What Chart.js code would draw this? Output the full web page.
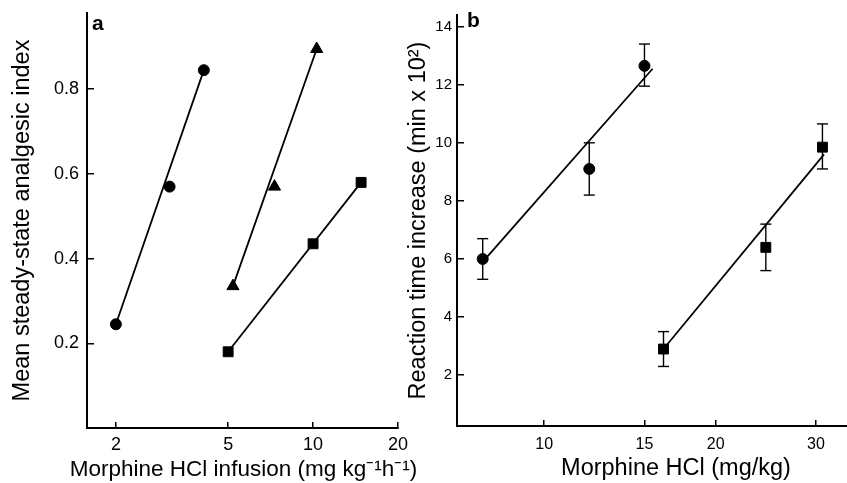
<!DOCTYPE html>
<html>
<head>
<meta charset="utf-8">
<script src="https://cdn.jsdelivr.net/npm/chart.js@4.4.0/dist/chart.umd.min.js"></script>
<style>
  html, body { margin: 0; padding: 0; background: #fff; overflow: hidden; width: 847px; height: 483px; }
  #chartA { position: absolute; left: 0; top: 0; }
  #chartB { position: absolute; left: 400px; top: 0; }
</style>
</head>
<body>
<canvas id="chartA" width="440" height="483"></canvas>
<canvas id="chartB" width="503" height="483"></canvas>
<script>

// panel a : steady-state analgesic index vs infusion rate
const aCircleX = [2, 3.1, 4.1];
const aCircleY = [0.245, 0.57, 0.845];
const aTriangleX = [5.2, 7.3, 10.3];
const aTriangleY = [0.335, 0.57, 0.895];
const aSquareX = [5, 10, 14.8];
const aSquareY = [0.18, 0.435, 0.58];

// fitted lines, panel a (end points)
const aCircleFitX = [2, 4.1];
const aCircleFitY = [0.245, 0.845];
const aTriangleFitX = [5.2, 10.3];
const aTriangleFitY = [0.335, 0.895];
const aSquareFitX = [5, 14.8];
const aSquareFitY = [0.18, 0.58];

const aXTicks = [2, 5, 10, 20];
const aYTicks = [0.2, 0.4, 0.6, 0.8];

// panel b : reaction time increase vs dose
const bCircleX = [7.8, 12, 15];
const bCircleY = [6.0, 9.1, 12.65];
const bCircleLow = [5.3, 8.2, 11.95];
const bCircleHigh = [6.7, 10.0, 13.4];
const bSquareX = [16.2, 24.5, 30.8];
const bSquareY = [2.9, 6.4, 9.85];
const bSquareLow = [2.3, 5.6, 9.1];
const bSquareHigh = [3.5, 7.2, 10.65];

const bCircleFitX = [7.8, 15.5];
const bCircleFitY = [5.9, 12.55];
const bSquareFitX = [16.2, 31];
const bSquareFitY = [2.9, 9.6];

const bXTicks = [10, 15, 20, 30];
const bYTicks = [2, 4, 6, 8, 10, 12, 14];


Chart.defaults.font.family = "'Liberation Sans', Arial, sans-serif";
Chart.defaults.color = '#000';

function toPoints(xs, ys) {
  return xs.map((x, i) => ({x: x, y: ys[i]}));
}

function markers(xs, ys, style, radius) {
  return {
    data: toPoints(xs, ys),
    showLine: false,
    pointStyle: style,
    pointRadius: radius,
    pointBackgroundColor: '#000',
    pointBorderColor: '#000',
    pointBorderWidth: 1
  };
}

function fitLine(xs, ys) {
  return {
    data: toPoints(xs, ys),
    showLine: true,
    borderColor: '#000',
    borderWidth: 1.8,
    pointRadius: 0
  };
}

function errorBars(xs, lows, highs) {
  return xs.map((x, i) => ({
    data: [{x: x, y: lows[i]}, {x: x, y: highs[i]}],
    showLine: true,
    borderColor: '#000',
    borderWidth: 1.4,
    pointStyle: 'line',
    pointRadius: 5.5,
    pointBorderColor: '#000',
    pointBorderWidth: 1.4
  }));
}

// panel letter, plus an x title that is allowed to be wider than the axis
const panelText = {
  id: 'panelText',
  afterDraw(chart, args, opts) {
    let ctx = chart.ctx;
    let area = chart.chartArea;
    ctx.save();
    ctx.fillStyle = '#000';
    ctx.font = "bold 21px 'Liberation Sans', Arial, sans-serif";
    ctx.textBaseline = 'alphabetic';
    ctx.fillText(opts.letter, area.left + opts.dx, area.top + opts.dy);
    if (opts.xTitle) {
      ctx.font = "22.5px 'Liberation Sans', Arial, sans-serif";
      ctx.textAlign = 'center';
      ctx.textBaseline = 'middle';
      ctx.fillText(opts.xTitle, (area.left + area.right) / 2 + 1, opts.xTitleY);
    }
    ctx.restore();
  }
};

function axis(type, min, max, tickList, fitSize, fontSize, pad, tl, titleText, titlePad) {
  let horizontal = fitSize.h !== undefined;
  return {
    type: type,
    min: min,
    max: max,
    afterBuildTicks: s => { s.ticks = tickList.map(v => ({value: v})); },
    afterFit: s => {
      if (horizontal) s.height = fitSize.h; else s.width = fitSize.w;
      // layout padding alone decides the plot box
      s.paddingTop = 0;
      s.paddingBottom = 0;
      s.paddingLeft = 0;
      s.paddingRight = 0;
    },
    ticks: {
      autoSkip: false,
      maxRotation: 0,
      padding: pad,
      font: {size: fontSize},
      color: '#000',
      callback: v => String(v)
    },
    grid: {
      drawOnChartArea: false,
      drawTicks: true,
      tickLength: tl,
      color: '#000',
      lineWidth: 1.5
    },
    border: {color: '#000', width: 2},
    title: {
      display: titleText !== '',
      text: titleText,
      color: '#000',
      font: {size: 23.5},
      padding: titlePad
    }
  };
}

const configA = {
  type: 'scatter',
  data: {
    datasets: [
      fitLine(aCircleFitX, aCircleFitY),
      fitLine(aTriangleFitX, aTriangleFitY),
      fitLine(aSquareFitX, aSquareFitY),
      markers(aCircleX, aCircleY, 'circle', 5.5),
      markers(aTriangleX, aTriangleY, 'triangle', 7),
      markers(aSquareX, aSquareY, 'rect', 7)
    ]
  },
  options: {
    responsive: false,
    animation: false,
    layout: {padding: {left: 0, top: 13, right: 42, bottom: 0}},
    plugins: {
      legend: {display: false},
      tooltip: {enabled: false},
      panelText: {
        letter: 'a', dx: 5, dy: 17,
        xTitle: 'Morphine HCl infusion (mg kg\u207B\u00B9h\u207B\u00B9)', xTitleY: 470
      }
    },
    scales: {
      x: axis('logarithmic', 1.58, 20, aXTicks, {h: 55}, 18, 12, -6, '', {top: 0, bottom: 0}),
      y: axis('linear', 0, 0.98, aYTicks, {w: 87}, 18, 15, -7,
        'Mean steady-state analgesic index', {top: 8, bottom: 0})
    }
  },
  plugins: [panelText]
};

const configB = {
  type: 'scatter',
  data: {
    datasets: [
      fitLine(bCircleFitX, bCircleFitY),
      fitLine(bSquareFitX, bSquareFitY)
    ].concat(
      errorBars(bCircleX, bCircleLow, bCircleHigh),
      errorBars(bSquareX, bSquareLow, bSquareHigh),
      [markers(bCircleX, bCircleY, 'circle', 5.5),
       markers(bSquareX, bSquareY, 'rect', 7)]
    )
  },
  options: {
    responsive: false,
    animation: false,
    layout: {padding: {left: 0, top: 15, right: 0, bottom: 0}},
    plugins: {
      legend: {display: false},
      tooltip: {enabled: false},
      panelText: {letter: 'b', dx: 10, dy: 12}
    },
    scales: {
      x: axis('logarithmic', 7.03, 41.3, bXTicks, {h: 57}, 16, 15, -6,
        'Morphine HCl (mg/kg)', {top: 0, bottom: 0}),
      y: axis('linear', 0.25, 14.4, bYTicks, {w: 57}, 15, 12, -7,
        'Reaction time increase (min x 10\u00B2)', {top: 4, bottom: 0})
    }
  },
  plugins: [panelText]
};

var chartA = new Chart(document.getElementById('chartA'), configA);
var chartB = new Chart(document.getElementById('chartB'), configB);

</script>
</body>
</html>
